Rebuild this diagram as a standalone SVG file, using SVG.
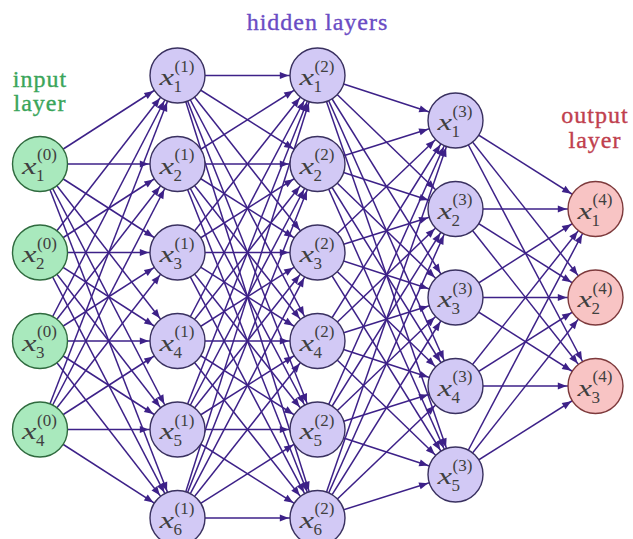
<svg xmlns="http://www.w3.org/2000/svg" width="633" height="539" viewBox="0 0 633 539">
<style>
.e{stroke:#3d2188;stroke-width:1.5;fill:none;marker-end:url(#ah)}
.n circle{stroke-width:1.4}
.in circle{fill:#a9e9bd;stroke:#2f6a3e}
.hd circle{fill:#d2c9f5;stroke:#3a3160}
.ot circle{fill:#f8c4c4;stroke:#7d3a3c}
.x{font-family:"Liberation Serif",serif;font-style:italic;font-size:24px;fill:#404040}
.s{font-family:"Liberation Serif",serif;font-size:17px;fill:#404040}
.lbl{font-family:"Liberation Serif",serif;font-size:24px;text-anchor:middle;letter-spacing:1px;stroke-width:0.35px}
</style>
<defs>
<marker id="ah" markerUnits="userSpaceOnUse" viewBox="-12 -6 44 12" markerWidth="44" markerHeight="12" refX="28.7" refY="0" orient="auto">
<path d="M-9,-3.6 L0,0 L-9,3.6 z" fill="#3d2188"/>
</marker>
</defs>
<rect width="633" height="539" fill="#fff"/>
<text class="lbl" x="40" y="86.5" fill="#3aa55a" stroke="#3aa55a">input</text>
<text class="lbl" x="40" y="110.5" fill="#3aa55a" stroke="#3aa55a">layer</text>
<text class="lbl" x="317.5" y="30" fill="#6a4cc4" stroke="#6a4cc4">hidden layers</text>
<text class="lbl" x="595" y="123" fill="#c0404e" stroke="#c0404e">output</text>
<text class="lbl" x="595" y="147.5" fill="#c0404e" stroke="#c0404e">layer</text>
<g id="connectors">
<line class="e" x1="40" y1="164" x2="177.5" y2="75.5"/>
<line class="e" x1="40" y1="164" x2="177.5" y2="164"/>
<line class="e" x1="40" y1="164" x2="177.5" y2="252.5"/>
<line class="e" x1="40" y1="164" x2="177.5" y2="341"/>
<line class="e" x1="40" y1="164" x2="177.5" y2="429.5"/>
<line class="e" x1="40" y1="164" x2="177.5" y2="518"/>
<line class="e" x1="40" y1="252.5" x2="177.5" y2="75.5"/>
<line class="e" x1="40" y1="252.5" x2="177.5" y2="164"/>
<line class="e" x1="40" y1="252.5" x2="177.5" y2="252.5"/>
<line class="e" x1="40" y1="252.5" x2="177.5" y2="341"/>
<line class="e" x1="40" y1="252.5" x2="177.5" y2="429.5"/>
<line class="e" x1="40" y1="252.5" x2="177.5" y2="518"/>
<line class="e" x1="40" y1="341" x2="177.5" y2="75.5"/>
<line class="e" x1="40" y1="341" x2="177.5" y2="164"/>
<line class="e" x1="40" y1="341" x2="177.5" y2="252.5"/>
<line class="e" x1="40" y1="341" x2="177.5" y2="341"/>
<line class="e" x1="40" y1="341" x2="177.5" y2="429.5"/>
<line class="e" x1="40" y1="341" x2="177.5" y2="518"/>
<line class="e" x1="40" y1="429.5" x2="177.5" y2="75.5"/>
<line class="e" x1="40" y1="429.5" x2="177.5" y2="164"/>
<line class="e" x1="40" y1="429.5" x2="177.5" y2="252.5"/>
<line class="e" x1="40" y1="429.5" x2="177.5" y2="341"/>
<line class="e" x1="40" y1="429.5" x2="177.5" y2="429.5"/>
<line class="e" x1="40" y1="429.5" x2="177.5" y2="518"/>
<line class="e" x1="177.5" y1="75.5" x2="317.5" y2="75.5"/>
<line class="e" x1="177.5" y1="75.5" x2="317.5" y2="164"/>
<line class="e" x1="177.5" y1="75.5" x2="317.5" y2="252.5"/>
<line class="e" x1="177.5" y1="75.5" x2="317.5" y2="341"/>
<line class="e" x1="177.5" y1="75.5" x2="317.5" y2="429.5"/>
<line class="e" x1="177.5" y1="75.5" x2="317.5" y2="518"/>
<line class="e" x1="177.5" y1="164" x2="317.5" y2="75.5"/>
<line class="e" x1="177.5" y1="164" x2="317.5" y2="164"/>
<line class="e" x1="177.5" y1="164" x2="317.5" y2="252.5"/>
<line class="e" x1="177.5" y1="164" x2="317.5" y2="341"/>
<line class="e" x1="177.5" y1="164" x2="317.5" y2="429.5"/>
<line class="e" x1="177.5" y1="164" x2="317.5" y2="518"/>
<line class="e" x1="177.5" y1="252.5" x2="317.5" y2="75.5"/>
<line class="e" x1="177.5" y1="252.5" x2="317.5" y2="164"/>
<line class="e" x1="177.5" y1="252.5" x2="317.5" y2="252.5"/>
<line class="e" x1="177.5" y1="252.5" x2="317.5" y2="341"/>
<line class="e" x1="177.5" y1="252.5" x2="317.5" y2="429.5"/>
<line class="e" x1="177.5" y1="252.5" x2="317.5" y2="518"/>
<line class="e" x1="177.5" y1="341" x2="317.5" y2="75.5"/>
<line class="e" x1="177.5" y1="341" x2="317.5" y2="164"/>
<line class="e" x1="177.5" y1="341" x2="317.5" y2="252.5"/>
<line class="e" x1="177.5" y1="341" x2="317.5" y2="341"/>
<line class="e" x1="177.5" y1="341" x2="317.5" y2="429.5"/>
<line class="e" x1="177.5" y1="341" x2="317.5" y2="518"/>
<line class="e" x1="177.5" y1="429.5" x2="317.5" y2="75.5"/>
<line class="e" x1="177.5" y1="429.5" x2="317.5" y2="164"/>
<line class="e" x1="177.5" y1="429.5" x2="317.5" y2="252.5"/>
<line class="e" x1="177.5" y1="429.5" x2="317.5" y2="341"/>
<line class="e" x1="177.5" y1="429.5" x2="317.5" y2="429.5"/>
<line class="e" x1="177.5" y1="429.5" x2="317.5" y2="518"/>
<line class="e" x1="177.5" y1="518" x2="317.5" y2="75.5"/>
<line class="e" x1="177.5" y1="518" x2="317.5" y2="164"/>
<line class="e" x1="177.5" y1="518" x2="317.5" y2="252.5"/>
<line class="e" x1="177.5" y1="518" x2="317.5" y2="341"/>
<line class="e" x1="177.5" y1="518" x2="317.5" y2="429.5"/>
<line class="e" x1="177.5" y1="518" x2="317.5" y2="518"/>
<line class="e" x1="317.5" y1="75.5" x2="455.5" y2="120.5"/>
<line class="e" x1="317.5" y1="75.5" x2="455.5" y2="209"/>
<line class="e" x1="317.5" y1="75.5" x2="455.5" y2="297.5"/>
<line class="e" x1="317.5" y1="75.5" x2="455.5" y2="386"/>
<line class="e" x1="317.5" y1="75.5" x2="455.5" y2="474.5"/>
<line class="e" x1="317.5" y1="164" x2="455.5" y2="120.5"/>
<line class="e" x1="317.5" y1="164" x2="455.5" y2="209"/>
<line class="e" x1="317.5" y1="164" x2="455.5" y2="297.5"/>
<line class="e" x1="317.5" y1="164" x2="455.5" y2="386"/>
<line class="e" x1="317.5" y1="164" x2="455.5" y2="474.5"/>
<line class="e" x1="317.5" y1="252.5" x2="455.5" y2="120.5"/>
<line class="e" x1="317.5" y1="252.5" x2="455.5" y2="209"/>
<line class="e" x1="317.5" y1="252.5" x2="455.5" y2="297.5"/>
<line class="e" x1="317.5" y1="252.5" x2="455.5" y2="386"/>
<line class="e" x1="317.5" y1="252.5" x2="455.5" y2="474.5"/>
<line class="e" x1="317.5" y1="341" x2="455.5" y2="120.5"/>
<line class="e" x1="317.5" y1="341" x2="455.5" y2="209"/>
<line class="e" x1="317.5" y1="341" x2="455.5" y2="297.5"/>
<line class="e" x1="317.5" y1="341" x2="455.5" y2="386"/>
<line class="e" x1="317.5" y1="341" x2="455.5" y2="474.5"/>
<line class="e" x1="317.5" y1="429.5" x2="455.5" y2="120.5"/>
<line class="e" x1="317.5" y1="429.5" x2="455.5" y2="209"/>
<line class="e" x1="317.5" y1="429.5" x2="455.5" y2="297.5"/>
<line class="e" x1="317.5" y1="429.5" x2="455.5" y2="386"/>
<line class="e" x1="317.5" y1="429.5" x2="455.5" y2="474.5"/>
<line class="e" x1="317.5" y1="518" x2="455.5" y2="120.5"/>
<line class="e" x1="317.5" y1="518" x2="455.5" y2="209"/>
<line class="e" x1="317.5" y1="518" x2="455.5" y2="297.5"/>
<line class="e" x1="317.5" y1="518" x2="455.5" y2="386"/>
<line class="e" x1="317.5" y1="518" x2="455.5" y2="474.5"/>
<line class="e" x1="455.5" y1="120.5" x2="595.5" y2="209"/>
<line class="e" x1="455.5" y1="120.5" x2="595.5" y2="297.5"/>
<line class="e" x1="455.5" y1="120.5" x2="595.5" y2="386"/>
<line class="e" x1="455.5" y1="209" x2="595.5" y2="209"/>
<line class="e" x1="455.5" y1="209" x2="595.5" y2="297.5"/>
<line class="e" x1="455.5" y1="209" x2="595.5" y2="386"/>
<line class="e" x1="455.5" y1="297.5" x2="595.5" y2="209"/>
<line class="e" x1="455.5" y1="297.5" x2="595.5" y2="297.5"/>
<line class="e" x1="455.5" y1="297.5" x2="595.5" y2="386"/>
<line class="e" x1="455.5" y1="386" x2="595.5" y2="209"/>
<line class="e" x1="455.5" y1="386" x2="595.5" y2="297.5"/>
<line class="e" x1="455.5" y1="386" x2="595.5" y2="386"/>
<line class="e" x1="455.5" y1="474.5" x2="595.5" y2="209"/>
<line class="e" x1="455.5" y1="474.5" x2="595.5" y2="297.5"/>
<line class="e" x1="455.5" y1="474.5" x2="595.5" y2="386"/>
</g>
<g id="x0_1" class="n in"><circle cx="40" cy="164" r="27.5"/><text class="x" x="22" y="173.5" textLength="14.5" lengthAdjust="spacingAndGlyphs">x</text><text class="s" x="37" y="160">(0)</text><text class="s" x="36" y="180.5">1</text></g>
<g id="x0_2" class="n in"><circle cx="40" cy="252.5" r="27.5"/><text class="x" x="22" y="262" textLength="14.5" lengthAdjust="spacingAndGlyphs">x</text><text class="s" x="37" y="248.5">(0)</text><text class="s" x="36" y="269">2</text></g>
<g id="x0_3" class="n in"><circle cx="40" cy="341" r="27.5"/><text class="x" x="22" y="350.5" textLength="14.5" lengthAdjust="spacingAndGlyphs">x</text><text class="s" x="37" y="337">(0)</text><text class="s" x="36" y="357.5">3</text></g>
<g id="x0_4" class="n in"><circle cx="40" cy="429.5" r="27.5"/><text class="x" x="22" y="439" textLength="14.5" lengthAdjust="spacingAndGlyphs">x</text><text class="s" x="37" y="425.5">(0)</text><text class="s" x="36" y="446">4</text></g>
<g id="x1_1" class="n hd"><circle cx="177.5" cy="75.5" r="27.5"/><text class="x" x="159.5" y="85" textLength="14.5" lengthAdjust="spacingAndGlyphs">x</text><text class="s" x="174.5" y="71.5">(1)</text><text class="s" x="173.5" y="92">1</text></g>
<g id="x1_2" class="n hd"><circle cx="177.5" cy="164" r="27.5"/><text class="x" x="159.5" y="173.5" textLength="14.5" lengthAdjust="spacingAndGlyphs">x</text><text class="s" x="174.5" y="160">(1)</text><text class="s" x="173.5" y="180.5">2</text></g>
<g id="x1_3" class="n hd"><circle cx="177.5" cy="252.5" r="27.5"/><text class="x" x="159.5" y="262" textLength="14.5" lengthAdjust="spacingAndGlyphs">x</text><text class="s" x="174.5" y="248.5">(1)</text><text class="s" x="173.5" y="269">3</text></g>
<g id="x1_4" class="n hd"><circle cx="177.5" cy="341" r="27.5"/><text class="x" x="159.5" y="350.5" textLength="14.5" lengthAdjust="spacingAndGlyphs">x</text><text class="s" x="174.5" y="337">(1)</text><text class="s" x="173.5" y="357.5">4</text></g>
<g id="x1_5" class="n hd"><circle cx="177.5" cy="429.5" r="27.5"/><text class="x" x="159.5" y="439" textLength="14.5" lengthAdjust="spacingAndGlyphs">x</text><text class="s" x="174.5" y="425.5">(1)</text><text class="s" x="173.5" y="446">5</text></g>
<g id="x1_6" class="n hd"><circle cx="177.5" cy="518" r="27.5"/><text class="x" x="159.5" y="527.5" textLength="14.5" lengthAdjust="spacingAndGlyphs">x</text><text class="s" x="174.5" y="514">(1)</text><text class="s" x="173.5" y="534.5">6</text></g>
<g id="x2_1" class="n hd"><circle cx="317.5" cy="75.5" r="27.5"/><text class="x" x="299.5" y="85" textLength="14.5" lengthAdjust="spacingAndGlyphs">x</text><text class="s" x="314.5" y="71.5">(2)</text><text class="s" x="313.5" y="92">1</text></g>
<g id="x2_2" class="n hd"><circle cx="317.5" cy="164" r="27.5"/><text class="x" x="299.5" y="173.5" textLength="14.5" lengthAdjust="spacingAndGlyphs">x</text><text class="s" x="314.5" y="160">(2)</text><text class="s" x="313.5" y="180.5">2</text></g>
<g id="x2_3" class="n hd"><circle cx="317.5" cy="252.5" r="27.5"/><text class="x" x="299.5" y="262" textLength="14.5" lengthAdjust="spacingAndGlyphs">x</text><text class="s" x="314.5" y="248.5">(2)</text><text class="s" x="313.5" y="269">3</text></g>
<g id="x2_4" class="n hd"><circle cx="317.5" cy="341" r="27.5"/><text class="x" x="299.5" y="350.5" textLength="14.5" lengthAdjust="spacingAndGlyphs">x</text><text class="s" x="314.5" y="337">(2)</text><text class="s" x="313.5" y="357.5">4</text></g>
<g id="x2_5" class="n hd"><circle cx="317.5" cy="429.5" r="27.5"/><text class="x" x="299.5" y="439" textLength="14.5" lengthAdjust="spacingAndGlyphs">x</text><text class="s" x="314.5" y="425.5">(2)</text><text class="s" x="313.5" y="446">5</text></g>
<g id="x2_6" class="n hd"><circle cx="317.5" cy="518" r="27.5"/><text class="x" x="299.5" y="527.5" textLength="14.5" lengthAdjust="spacingAndGlyphs">x</text><text class="s" x="314.5" y="514">(2)</text><text class="s" x="313.5" y="534.5">6</text></g>
<g id="x3_1" class="n hd"><circle cx="455.5" cy="120.5" r="27.5"/><text class="x" x="437.5" y="130" textLength="14.5" lengthAdjust="spacingAndGlyphs">x</text><text class="s" x="452.5" y="116.5">(3)</text><text class="s" x="451.5" y="137">1</text></g>
<g id="x3_2" class="n hd"><circle cx="455.5" cy="209" r="27.5"/><text class="x" x="437.5" y="218.5" textLength="14.5" lengthAdjust="spacingAndGlyphs">x</text><text class="s" x="452.5" y="205">(3)</text><text class="s" x="451.5" y="225.5">2</text></g>
<g id="x3_3" class="n hd"><circle cx="455.5" cy="297.5" r="27.5"/><text class="x" x="437.5" y="307" textLength="14.5" lengthAdjust="spacingAndGlyphs">x</text><text class="s" x="452.5" y="293.5">(3)</text><text class="s" x="451.5" y="314">3</text></g>
<g id="x3_4" class="n hd"><circle cx="455.5" cy="386" r="27.5"/><text class="x" x="437.5" y="395.5" textLength="14.5" lengthAdjust="spacingAndGlyphs">x</text><text class="s" x="452.5" y="382">(3)</text><text class="s" x="451.5" y="402.5">4</text></g>
<g id="x3_5" class="n hd"><circle cx="455.5" cy="474.5" r="27.5"/><text class="x" x="437.5" y="484" textLength="14.5" lengthAdjust="spacingAndGlyphs">x</text><text class="s" x="452.5" y="470.5">(3)</text><text class="s" x="451.5" y="491">5</text></g>
<g id="x4_1" class="n ot"><circle cx="595.5" cy="209" r="27.5"/><text class="x" x="577.5" y="218.5" textLength="14.5" lengthAdjust="spacingAndGlyphs">x</text><text class="s" x="592.5" y="205">(4)</text><text class="s" x="591.5" y="225.5">1</text></g>
<g id="x4_2" class="n ot"><circle cx="595.5" cy="297.5" r="27.5"/><text class="x" x="577.5" y="307" textLength="14.5" lengthAdjust="spacingAndGlyphs">x</text><text class="s" x="592.5" y="293.5">(4)</text><text class="s" x="591.5" y="314">2</text></g>
<g id="x4_3" class="n ot"><circle cx="595.5" cy="386" r="27.5"/><text class="x" x="577.5" y="395.5" textLength="14.5" lengthAdjust="spacingAndGlyphs">x</text><text class="s" x="592.5" y="382">(4)</text><text class="s" x="591.5" y="402.5">3</text></g>
</svg>
